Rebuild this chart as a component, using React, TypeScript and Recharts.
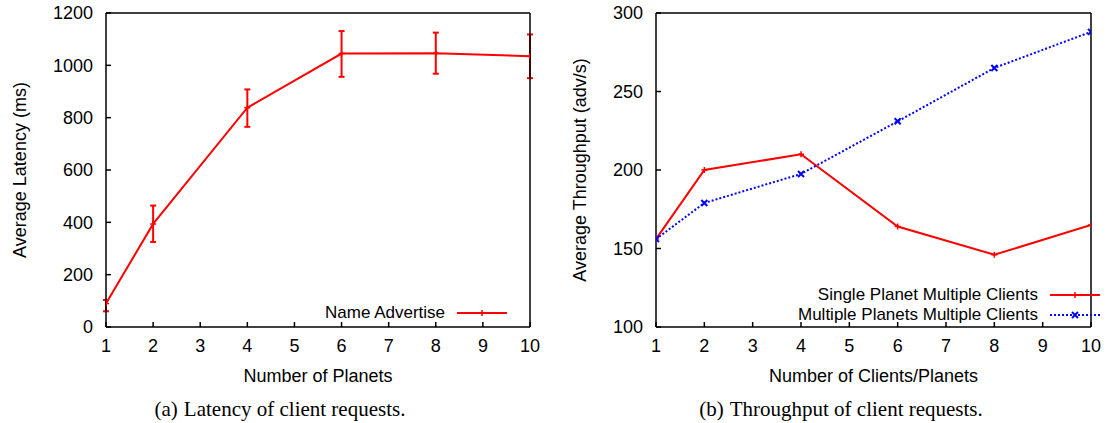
import React from 'react';
import { LineChart, Line, XAxis, YAxis, ErrorBar, Legend, Label } from 'recharts';

// ---- data ----
const planets = [1, 2, 4, 6, 8, 10];
const latency = [90, 394, 838, 1045, 1046, 1035];
const latencyLow = [60, 325, 765, 956, 968, 951];
const latencyHigh = [103, 464, 908, 1131, 1125, 1118];

const clients = [1, 2, 4, 6, 8, 10];
const singlePlanet = [156, 200, 210, 164, 146, 165];
const multiplePlanets = [156, 179, 197.5, 231, 265, 288];

const xTicks = [1, 2, 3, 4, 5, 6, 7, 8, 9, 10];
const latencyTicks = [0, 200, 400, 600, 800, 1000, 1200];
const throughputTicks = [100, 150, 200, 250, 300];

const latencyData = planets.map((x, i) => ({
  x,
  y: latency[i],
  err: [latency[i] - latencyLow[i], latencyHigh[i] - latency[i]],
}));
const throughputData = clients.map((x, i) => ({
  x,
  single: singlePlanet[i],
  multi: multiplePlanets[i],
}));

const FONT = '"Liberation Sans", Arial, Helvetica, sans-serif';
const SERIF = '"Liberation Serif", "Times New Roman", serif';
const RED = '#ff0000';
const BLUE = '#0000ff';
const FS = 18;
const LEG_FS = 17;
const ROW = 20;

const PlusDot = (props: any) => {
  const { cx, cy } = props;
  if (cx == null || cy == null) return null;
  return <path d={`M${cx - 3},${cy}h6M${cx},${cy - 3}v6`} stroke={RED} strokeWidth={1.5} fill="none" />;
};
const CrossDot = (props: any) => {
  const { cx, cy } = props;
  if (cx == null || cy == null) return null;
  return <path d={`M${cx - 3},${cy - 3}l6,6M${cx - 3},${cy + 3}l6,-6`} stroke={BLUE} strokeWidth={2} fill="none" />;
};

const seriesOrder = ['y', 'single', 'multi'];
const seriesStyle: Record<string, { color: string; dash?: string; marker: 'plus' | 'cross' }> = {
  y: { color: RED, marker: 'plus' },
  single: { color: RED, marker: 'plus' },
  multi: { color: BLUE, dash: '2 2', marker: 'cross' },
};

const LegendContent = (props: any) => {
  const payload = [...(props.payload || [])].sort(
    (a: any, b: any) => seriesOrder.indexOf(a.dataKey) - seriesOrder.indexOf(b.dataKey)
  );
  return (
    <div style={{ fontFamily: FONT, fontSize: LEG_FS, color: '#000' }}>
      {payload.map((p: any) => {
        const s = seriesStyle[p.dataKey] || { color: p.color, marker: 'plus' };
        return (
          <div key={p.dataKey} style={{ display: 'flex', alignItems: 'center', justifyContent: 'flex-end', height: ROW }}>
            <span style={{ lineHeight: `${ROW}px`, whiteSpace: 'nowrap' }}>{p.value}</span>
            <svg width={62} height={ROW} style={{ display: 'block', overflow: 'visible' }}>
              <line x1={12} x2={62} y1={ROW / 2} y2={ROW / 2} stroke={s.color} strokeWidth={2} strokeDasharray={s.dash} />
              {s.marker === 'plus' ? <PlusDot cx={37} cy={ROW / 2} /> : <CrossDot cx={37} cy={ROW / 2} />}
            </svg>
          </div>
        );
      })}
    </div>
  );
};

const yTitle = (text: string, bx: number) => (props: any) => {
  const vb = props.viewBox || { x: 0, y: 13, width: 106, height: 314 };
  const cy = vb.y + vb.height / 2;
  return (
    <text x={bx} y={cy} transform={`rotate(-90 ${bx} ${cy})`} textAnchor="middle" fontSize={FS} fill="#000" fontFamily={FONT}>
      {text}
    </text>
  );
};
const xTitle = (text: string) => (props: any) => {
  const vb = props.viewBox || { x: 106, y: 327, width: 424, height: 73 };
  return (
    <text x={vb.x + vb.width / 2} y={vb.y + 54.5} textAnchor="middle" fontSize={FS} fill="#000" fontFamily={FONT}>
      {text}
    </text>
  );
};

const axisLine = { stroke: '#000', strokeWidth: 1.5 };
const tickLine = { stroke: '#000', strokeWidth: 1.5 };
const tickStyle = { fill: '#000', fontSize: FS, fontFamily: FONT };

export default function App() {
  return (
    <div style={{ position: 'absolute', left: 0, top: 0, width: 1109, height: 423, background: '#fff', fontFamily: FONT, overflow: 'hidden' }}>
      <div style={{ position: 'absolute', left: 0, top: 0 }}>
        <LineChart width={555} height={400} data={latencyData} margin={{ top: 12, right: 24, bottom: 0, left: 0 }}>
          <XAxis xAxisId="b" dataKey="x" type="number" domain={[1, 10]} ticks={xTicks} interval={0} height={73}
            tickSize={-5} tickMargin={17} tick={tickStyle} tickLine={tickLine} axisLine={axisLine} allowDataOverflow>
            <Label content={xTitle('Number of Planets')} />
          </XAxis>
          <XAxis xAxisId="t" orientation="top" dataKey="x" type="number" domain={[1, 10]} ticks={xTicks} interval={0} height={1}
            tickSize={-5} tick={false} tickLine={tickLine} axisLine={axisLine} allowDataOverflow />
          <YAxis yAxisId="l" type="number" domain={[0, 1200]} ticks={latencyTicks} interval={0} width={106}
            tickSize={-5} tickMargin={18} tick={tickStyle} tickLine={tickLine} axisLine={axisLine} allowDataOverflow>
            <Label content={yTitle('Average Latency (ms)', 26)} />
          </YAxis>
          <YAxis yAxisId="r" orientation="right" type="number" domain={[0, 1200]} ticks={latencyTicks} interval={0} width={1}
            tickSize={-5} tick={false} tickLine={tickLine} axisLine={axisLine} allowDataOverflow />
          <Line xAxisId="b" yAxisId="l" dataKey="y" name="Name Advertise" stroke={RED} strokeWidth={2}
            dot={<PlusDot />} activeDot={false} isAnimationActive={false}>
            <ErrorBar dataKey="err" direction="y" width={3} stroke={RED} strokeWidth={2} />
          </Line>
          <Legend layout="vertical" align="center" verticalAlign="middle" content={<LegendContent />}
            wrapperStyle={{ right: 48, top: 313 - ROW / 2, width: 'auto' }} />
        </LineChart>
      </div>
      <div style={{ position: 'absolute', left: 550, top: 0 }}>
        <LineChart width={559} height={400} data={throughputData} margin={{ top: 12, right: 17, bottom: 0, left: 0 }}>
          <XAxis xAxisId="b" dataKey="x" type="number" domain={[1, 10]} ticks={xTicks} interval={0} height={73}
            tickSize={-5} tickMargin={17} tick={tickStyle} tickLine={tickLine} axisLine={axisLine} allowDataOverflow>
            <Label content={xTitle('Number of Clients/Planets')} />
          </XAxis>
          <XAxis xAxisId="t" orientation="top" dataKey="x" type="number" domain={[1, 10]} ticks={xTicks} interval={0} height={1}
            tickSize={-5} tick={false} tickLine={tickLine} axisLine={axisLine} allowDataOverflow />
          <YAxis yAxisId="l" type="number" domain={[100, 300]} ticks={throughputTicks} interval={0} width={106}
            tickSize={-5} tickMargin={18} tick={tickStyle} tickLine={tickLine} axisLine={axisLine} allowDataOverflow>
            <Label content={yTitle('Average Throughput (adv/s)', 36)} />
          </YAxis>
          <YAxis yAxisId="r" orientation="right" type="number" domain={[100, 300]} ticks={throughputTicks} interval={0} width={1}
            tickSize={-5} tick={false} tickLine={tickLine} axisLine={axisLine} allowDataOverflow />
          <Line xAxisId="b" yAxisId="l" dataKey="single" name="Single Planet Multiple Clients" stroke={RED} strokeWidth={2}
            dot={<PlusDot />} activeDot={false} isAnimationActive={false} />
          <Line xAxisId="b" yAxisId="l" dataKey="multi" name="Multiple Planets Multiple Clients" stroke={BLUE} strokeWidth={2}
            strokeDasharray="2 2" dot={<CrossDot />} activeDot={false} isAnimationActive={false} />
          <Legend layout="vertical" align="center" verticalAlign="middle" content={<LegendContent />}
            wrapperStyle={{ right: 9, top: 305 - ROW, width: 'auto' }} />
        </LineChart>
      </div>
      <svg width={1109} height={423} style={{ position: 'absolute', left: 0, top: 0, pointerEvents: 'none' }}>
        <text x={280} y={416} textAnchor="middle" fontFamily={SERIF} fontSize={21} fill="#000">
          (a)<tspan dx={6}>Latency of client requests.</tspan>
        </text>
        <text x={841} y={416} textAnchor="middle" fontFamily={SERIF} fontSize={21} fill="#000">
          (b)<tspan dx={6}>Throughput of client requests.</tspan>
        </text>
      </svg>
    </div>
  );
}
